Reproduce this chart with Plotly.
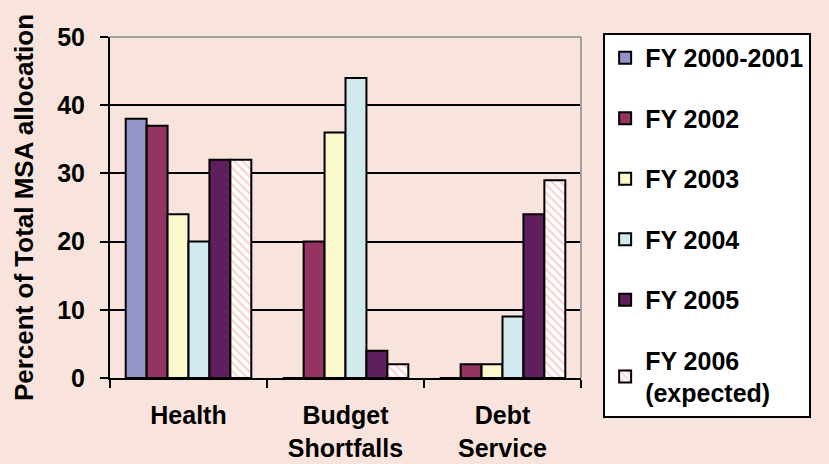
import plotly.graph_objects as go

categories = ["Health", "Budget<br>Shortfalls", "Debt<br>Service"]
series_names = ["FY 2000-2001", "FY 2002", "FY 2003", "FY 2004", "FY 2005", "FY 2006<br>(expected)"]
fy2000_2001 = [38, 0, 0]
fy2002 = [37, 20, 2]
fy2003 = [24, 36, 2]
fy2004 = [20, 44, 9]
fy2005 = [32, 4, 24]
fy2006 = [32, 2, 29]
series_values = [fy2000_2001, fy2002, fy2003, fy2004, fy2005, fy2006]
colors = ["#9494C8", "#943462", "#FBF8CC", "#D0EAEE", "#5F1F5F", "#FFFFFF"]
y_ticks = [0, 10, 20, 30, 40, 50]

FONT = "Arial, Liberation Sans, sans-serif"

fig = go.Figure()
for i, (name, vals, col) in enumerate(zip(series_names, series_values, colors)):
    marker = dict(color=col, line=dict(color="black", width=2))
    if i == 5:
        marker["pattern"] = dict(shape="\\", fgcolor="#F4A0A0", bgcolor="white",
                                 size=6, solidity=0.35, fillmode="overlay")
    fig.add_trace(go.Bar(x=categories, y=vals, name=name, marker=marker,
                         legendgroup=f"g{i}"))

fig.update_layout(
    width=829, height=464,
    margin=dict(l=110, r=248, t=37, b=86, autoexpand=False),
    paper_bgcolor="#F8E4DC", plot_bgcolor="#F8E4DC",
    barmode="group", bargap=0.2, bargroupgap=0,
    font=dict(family=FONT, color="black", weight="bold"),
    legend=dict(x=1.047, y=1.012, xanchor="left", yanchor="top",
                bgcolor="white", bordercolor="black", borderwidth=2,
                font=dict(size=25, family=FONT, color="black", weight="bold"),
                traceorder="grouped", tracegroupgap=25,
                itemwidth=30, maxheight=1.0),
    showlegend=True,
)
fig.update_yaxes(range=[0, 50], tickvals=y_ticks, ticks="outside", ticklen=8,
                 tickwidth=1.5, tickcolor="black",
                 showgrid=True, gridcolor="black", gridwidth=2,
                 showline=True, linecolor="black", linewidth=2,
                 tickfont=dict(size=25, family=FONT, weight="bold"),
                 ticklabelstandoff=10, automargin=False,
                 title=dict(text="Percent of Total MSA allocation",
                            font=dict(size=26, family=FONT, weight="bold"), standoff=16),
                 zeroline=False)
fig.update_xaxes(showline=True, linecolor="black", linewidth=2, mirror=False,
                 ticks="outside", tickson="boundaries", ticklen=8, tickcolor="black",
                 tickwidth=1.5, ticklabelstandoff=14, automargin=False,
                 tickfont=dict(size=25, family=FONT, weight="bold"))
# gray top/right frame
fig.add_shape(type="line", xref="paper", yref="paper", x0=0, x1=1, y0=1, y1=1,
              line=dict(color="#A0A0A0", width=2))
fig.add_shape(type="line", xref="paper", yref="paper", x0=1, x1=1, y0=0, y1=1,
              line=dict(color="#A0A0A0", width=2))
fig.write_html("out.html")
